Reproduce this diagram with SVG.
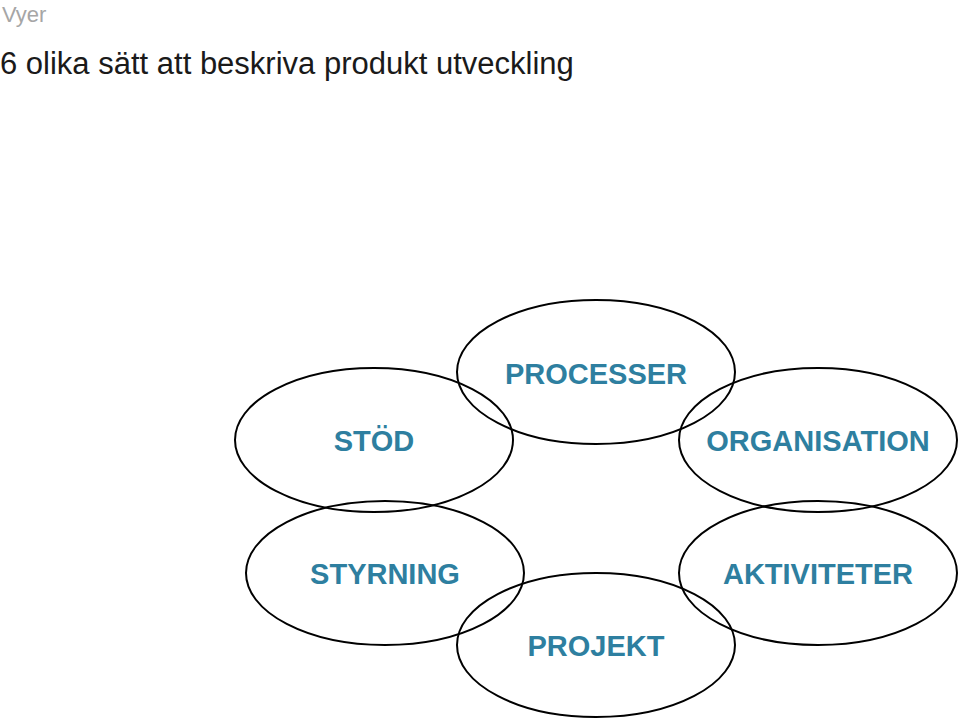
<svg xmlns="http://www.w3.org/2000/svg" width="960" height="722" viewBox="0 0 960 722">
<style>
.e{fill:none;stroke:#000;stroke-width:2}
.l{font-family:"Liberation Sans",Arial,sans-serif;font-weight:bold;font-size:29px;fill:#2E7FA0;text-anchor:middle}
</style>
<rect width="960" height="722" fill="#fff"/>
<text x="2" y="22" font-family="Liberation Sans,Arial,sans-serif" font-size="22" fill="#A6A6A6">Vyer</text>
<text x="0" y="74" font-family="Liberation Sans,Arial,sans-serif" font-size="31" fill="#1a1a1a">6 olika sätt att beskriva produkt utveckling</text>
<g id="processer"><ellipse class="e" cx="596" cy="372" rx="139" ry="72"/><text class="l" x="596" y="384">PROCESSER</text></g>
<g id="stod"><ellipse class="e" cx="374" cy="440" rx="139" ry="72"/><text class="l" x="374" y="451">STÖD</text></g>
<g id="organisation"><ellipse class="e" cx="818" cy="440" rx="139" ry="72"/><text class="l" x="818" y="451">ORGANISATION</text></g>
<g id="styrning"><ellipse class="e" cx="385" cy="573" rx="139" ry="72"/><text class="l" x="385" y="584">STYRNING</text></g>
<g id="aktiviteter"><ellipse class="e" cx="818" cy="573" rx="139" ry="72"/><text class="l" x="818" y="584">AKTIVITETER</text></g>
<g id="projekt"><ellipse class="e" cx="596" cy="645" rx="139" ry="72"/><text class="l" x="596" y="656">PROJEKT</text></g>
<g id="connectors"/>
</svg>
